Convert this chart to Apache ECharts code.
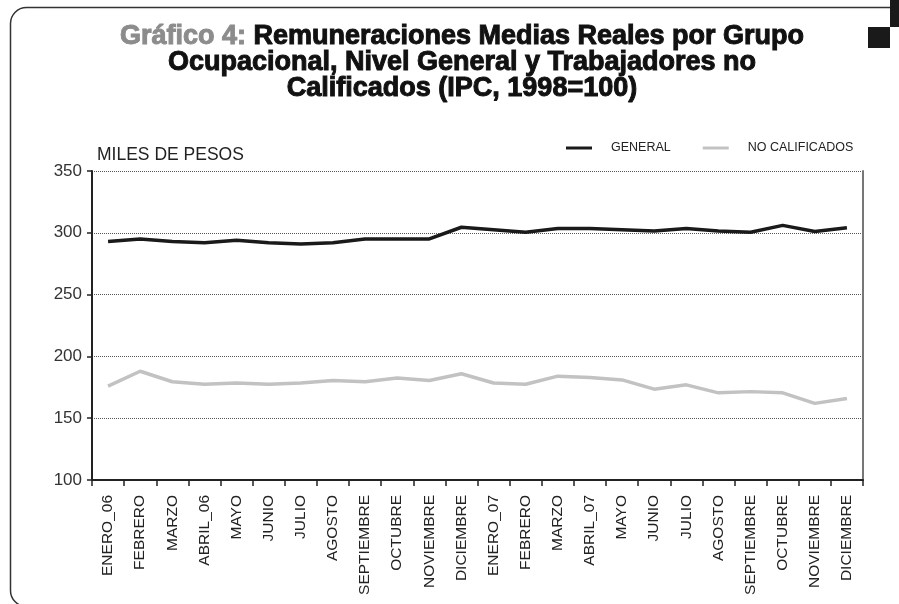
<!DOCTYPE html>
<html>
<head>
<meta charset="utf-8">
<script src="https://cdn.jsdelivr.net/npm/echarts@6/dist/echarts.min.js"></script>
<style>
html,body{margin:0;padding:0;background:#fff;}
#c{width:899px;height:604px;}
</style>
</head>
<body>
<div id="c"></div>
<script>
// ---- data ----
const categories = ['ENERO_06','FEBRERO','MARZO','ABRIL_06','MAYO','JUNIO','JULIO','AGOSTO','SEPTIEMBRE','OCTUBRE','NOVIEMBRE','DICIEMBRE',
                    'ENERO_07','FEBRERO','MARZO','ABRIL_07','MAYO','JUNIO','JULIO','AGOSTO','SEPTIEMBRE','OCTUBRE','NOVIEMBRE','DICIEMBRE'];
const general = [293, 295, 293, 292, 294, 292, 291, 292, 295, 295, 295, 304.5,
                 302.5, 300.5, 303.5, 303.5, 302.5, 301.5, 303.5, 301.5, 300.5, 306, 301, 304];
const noCalificados = [176, 188, 179.5, 177.5, 178.5, 177.5, 178.5, 180.5, 179.5, 182.5, 180.5, 186,
                       178.5, 177.5, 184, 183, 181, 173.5, 177, 170.5, 171.5, 170.5, 162, 166];
const seriesNames = ['GENERAL', 'NO CALIFICADOS'];
const yMin = 100, yMax = 350, yStep = 50;
const yAxisName = 'MILES DE PESOS';
const titleLines = ['{g|Gráfico 4:} Remuneraciones Medias Reales por Grupo',
                    'Ocupacional, Nivel General y Trabajadores no',
                    'Calificados (IPC, 1998=100)'];

const FONT = "'Liberation Sans', Arial, Helvetica, sans-serif";
const chart = echarts.init(document.getElementById('c'), null, {renderer: 'canvas'});

chart.setOption({
  backgroundColor: '#ffffff',
  animation: false,
  textStyle: {fontFamily: FONT},
  graphic: [
    {
      type: 'rect', z: -10, silent: true,
      shape: {x: 10.5, y: 7.5, width: 1000, height: 599, r: [16, 0, 0, 16]},
      style: {fill: 'none', stroke: '#333', lineWidth: 1.5}
    },
    {type: 'rect', silent: true, shape: {x: 868, y: 27, width: 22, height: 21}, style: {fill: '#1a1a1a'}},
    {type: 'rect', silent: true, shape: {x: 890, y: 0, width: 9, height: 27}, style: {fill: '#1a1a1a'}},
    {
      type: 'text', silent: true, x: 462, y: 24,
      style: {
        text: titleLines.join('\n'),
        align: 'center', verticalAlign: 'top',
        fontFamily: FONT, fontSize: 27, fontWeight: 'bold',
        fill: '#111111', stroke: '#111111', lineWidth: 1,
        lineHeight: 26,
        rich: {
          g: {fill: '#8c8c8c', stroke: '#8c8c8c', lineWidth: 1,
              fontFamily: FONT, fontSize: 27, fontWeight: 'bold', lineHeight: 26}
        }
      }
    }
  ],
  legend: {
    left: 561, top: 136.5,
    icon: 'rect', itemWidth: 26, itemHeight: 3, itemGap: 32,
    textStyle: {fontSize: 12.5, color: '#222', padding: [0, 0, 0, 14]},
    data: seriesNames
  },
  grid: {left: 92, right: 36, top: 171, bottom: 124, containLabel: false},
  xAxis: {
    type: 'category',
    data: categories,
    boundaryGap: true,
    axisLine: {lineStyle: {color: '#222', width: 2}},
    axisTick: {show: true, interval: 0, length: 6, lineStyle: {color: '#222', width: 1.5}},
    axisLabel: {rotate: 90, interval: 0, fontSize: 15.5, color: '#222', margin: 15},
    splitLine: {show: false}
  },
  yAxis: [
    {
      type: 'value', min: yMin, max: yMax, interval: yStep,
      name: yAxisName, nameLocation: 'end', nameGap: 7,
      nameTextStyle: {align: 'left', verticalAlign: 'bottom', fontSize: 17.5, color: '#222', padding: [0, 0, 0, 5]},
      axisLine: {show: true, lineStyle: {color: '#222', width: 2}},
      axisTick: {show: true, length: 5, lineStyle: {color: '#222', width: 1.5}},
      axisLabel: {fontSize: 17, color: '#333', margin: 10},
      splitLine: {show: true, lineStyle: {type: 'dotted', color: '#555', width: 1}}
    },
    {
      type: 'value', position: 'right', min: yMin, max: yMax, interval: yStep,
      axisLine: {show: true, lineStyle: {color: '#777', width: 2}},
      axisTick: {show: false}, axisLabel: {show: false}, splitLine: {show: false}
    }
  ],
  series: [
    {
      name: seriesNames[0], type: 'line', data: general, yAxisIndex: 0,
      symbol: 'none', color: '#1a1a1a',
      lineStyle: {color: '#1a1a1a', width: 3.5}, z: 3
    },
    {
      name: seriesNames[1], type: 'line', data: noCalificados, yAxisIndex: 0,
      symbol: 'none', color: '#c2c2c2',
      lineStyle: {color: '#c2c2c2', width: 3.5}, z: 2
    }
  ]
});
</script>
</body>
</html>
